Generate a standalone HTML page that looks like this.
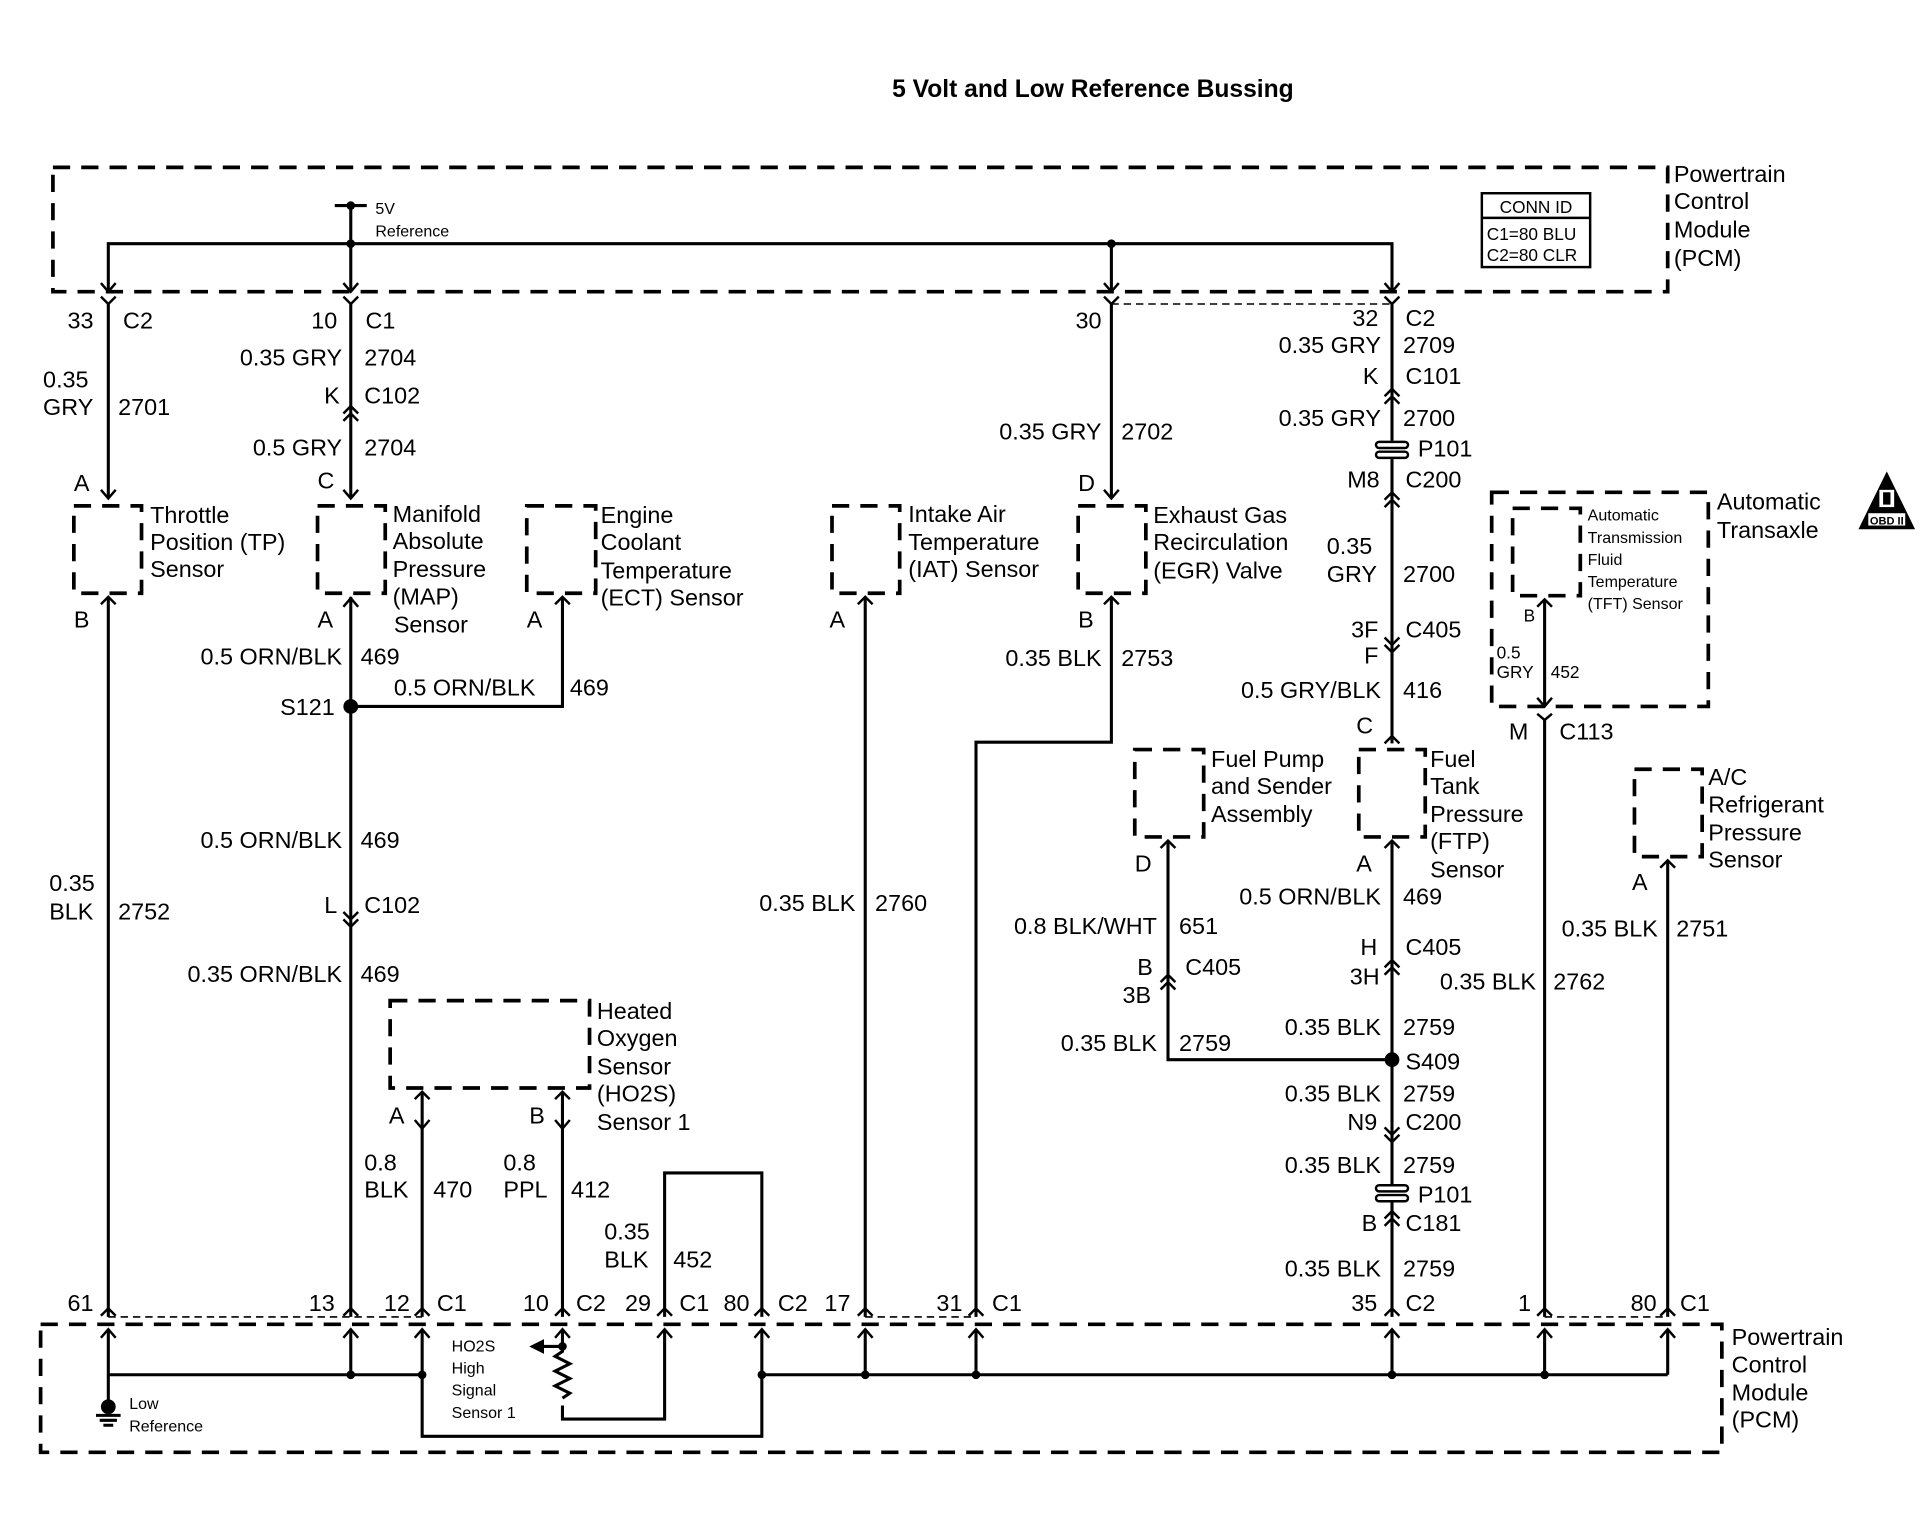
<!DOCTYPE html>
<html><head><meta charset="utf-8"><style>
html,body{margin:0;padding:0;background:#fff;}
svg{display:block;}
text{font-family:"Liberation Sans",Arial,sans-serif;font-size:19px;fill:#000;}
.s{font-size:13px;}
.m{font-size:14px;}
.t{font-size:20px;font-weight:bold;}
.e{text-anchor:end;}
</style></head><body>
<svg width="1920" height="1536" viewBox="0 0 1560 1248" preserveAspectRatio="none" xmlns="http://www.w3.org/2000/svg">
<rect width="1560" height="1248" fill="#fff"/>
<text class="t" x="888" y="79" text-anchor="middle">5 Volt and Low Reference Bussing</text>

<g fill="none" stroke="#000" stroke-width="3" stroke-dasharray="14,9">
<rect x="43" y="136" width="1312" height="101"/>
<rect x="33" y="1076" width="1366" height="104"/>
<rect x="1212" y="400" width="176" height="174"/>
<rect x="1229" y="413" width="55" height="71"/>
<rect x="60" y="411" width="55" height="71"/>
<rect x="258" y="411" width="55" height="71"/>
<rect x="428" y="411" width="56" height="71"/>
<rect x="676" y="411" width="55" height="71"/>
<rect x="876" y="411" width="55" height="71"/>
<rect x="922" y="609" width="56" height="71"/>
<rect x="1104" y="609" width="54" height="71"/>
<rect x="1328" y="625" width="55" height="71"/>
<rect x="317" y="813" width="162" height="71"/>
</g>
<g fill="none" stroke="#000" stroke-width="1.3" stroke-dasharray="6,4">
<path d="M903 247 H1131"/>
<path d="M88 1070 H343 M703 1070 H793 M1255 1070 H1355"/>
</g>

<g fill="none" stroke="#000" stroke-width="2.5">
<!-- top bus -->
<path d="M272 167 H298 M285 167 V237 M88 237 V198 H1131 V237 M903 198 V237"/>
<!-- col 88 -->
<path d="M88 247 V405 M88 485 V1070"/>
<!-- col 285 -->
<path d="M285 247 V405 M285 485 V1070 M285 574 H457 V485"/>
<!-- IAT -->
<path d="M703 485 V1070"/>
<!-- EGR -->
<path d="M903 247 V405 M903 485 V603 H793 V1070"/>
<!-- col 1131 -->
<path d="M1131 247 V358 M1131 373 V604 M1131 683 V962 M1131 976 V1070"/>
<path d="M949 683 V861 H1131"/>
<!-- TFT -->
<path d="M1255 487 V574 M1255 584 V1070"/>
<!-- A/C -->
<path d="M1355 699 V1070"/>
<!-- HO2S -->
<path d="M343 887 V1070 M457 887 V1070 M540 1070 V953 H619 V1070"/>
<!-- bottom internal -->
<path d="M88 1080 V1143 M285 1080 V1117 M343 1080 V1167 H619 V1080 M540 1080 V1153 H457 V1142 M88 1117 H343 M619 1117 H1355 M703 1080 V1117 M793 1080 V1117 M1131 1080 V1117 M1255 1080 V1117 M1355 1080 V1117"/>
<path d="M457 1080 V1098 l-6 4 l12 6 l-12 6 l12 6 l-12 6 l12 6 l-6 4 M457 1094 H440"/>
<!-- ground -->
<path d="M78 1150 H98 M81 1154 H95 M84 1158 H92"/>
</g>
<polygon points="430,1094 442,1088 442,1100" fill="#000"/>

<!-- arrows / connector marks -->
<g fill="none" stroke="#000" stroke-width="2">
<!-- down chevrons into top dashed line -->
<path d="M82 230 L88 237 L94 230 M279 230 L285 237 L291 230 M897 230 L903 237 L909 230 M1125 230 L1131 237 L1137 230"/>
<!-- forks below top line -->
<path d="M82 241 L88 247 L94 241 M279 241 L285 247 L291 241 M897 241 L903 247 L909 241 M1125 241 L1131 247 L1137 241"/>
<!-- C102 K up double -->
<path d="M279 336 L285 330 L291 336 M279 342 L285 336 L291 342"/>
<!-- down arrows into sensor tops -->
<path d="M82 398 L88 405 L94 398 M279 398 L285 405 L291 398 M897 398 L903 405 L909 398"/>
<!-- forks at sensor bottoms -->
<path d="M82 491 L88 485 L94 491 M451 491 L457 485 L463 491 M697 491 L703 485 L709 491 M897 491 L903 485 L909 491 M943 689 L949 683 L955 689 M1125 689 L1131 683 L1137 689 M1349 705 L1355 699 L1361 705 M1249 493 L1255 487 L1261 493 M337 893 L343 887 L349 893 M451 893 L457 887 L463 893"/>
<path d="M279 493 L285 486 L291 493"/>
<!-- HO2S down -->
<path d="M337 910 L343 917 L349 910 M451 910 L457 917 L463 910"/>
<!-- C102 L down double -->
<path d="M279 741 L285 747 L291 741 M279 747 L285 753 L291 747"/>
<!-- C101 up -->
<path d="M1125 322 L1131 316 L1137 322 M1125 328 L1131 322 L1137 328"/>
<!-- C200 M8 up -->
<path d="M1125 406 L1131 400 L1137 406 M1125 412 L1131 406 L1137 412"/>
<!-- C405 F down -->
<path d="M1125 518 L1131 524 L1137 518 M1125 524 L1131 530 L1137 524"/>
<!-- FTP top up -->
<path d="M1125 604 L1131 598 L1137 604"/>
<!-- C405 H up -->
<path d="M1125 786 L1131 780 L1137 786 M1125 792 L1131 786 L1137 792"/>
<!-- 3B -->
<path d="M943 798 L949 792 L955 798 M943 804 L949 798 L955 804"/>
<!-- N9 down -->
<path d="M1125 916 L1131 922 L1137 916 M1125 922 L1131 928 L1137 922"/>
<!-- C181 up -->
<path d="M1125 990 L1131 984 L1137 990 M1125 996 L1131 990 L1137 996"/>
<!-- TFT into outer box -->
<path d="M1249 567 L1255 574 L1261 567 M1249 580 L1255 585 L1261 580"/>
<!-- bottom forks and up arrows -->
<path d="M82 1069 L88 1063 L94 1069 M279 1069 L285 1063 L291 1069 M337 1069 L343 1063 L349 1069 M451 1069 L457 1063 L463 1069 M534 1069 L540 1063 L546 1069 M613 1069 L619 1063 L625 1069 M697 1069 L703 1063 L709 1069 M787 1069 L793 1063 L799 1069 M1125 1069 L1131 1063 L1137 1069 M1249 1069 L1255 1063 L1261 1069 M1349 1069 L1355 1063 L1361 1069"/>
<path d="M82 1087 L88 1080 L94 1087 M279 1087 L285 1080 L291 1087 M337 1087 L343 1080 L349 1087 M451 1087 L457 1080 L463 1087 M534 1087 L540 1080 L546 1087 M613 1087 L619 1080 L625 1087 M697 1087 L703 1080 L709 1087 M787 1087 L793 1080 L799 1087 M1125 1087 L1131 1080 L1137 1087 M1249 1087 L1255 1080 L1261 1087 M1349 1087 L1355 1080 L1361 1087"/>
</g>
<!-- P101 symbols -->
<g fill="#fff" stroke="#000" stroke-width="2">
<rect x="1118" y="359" width="26" height="5" rx="2.5"/><rect x="1118" y="367" width="26" height="5" rx="2.5"/>
<rect x="1118" y="963" width="26" height="5" rx="2.5"/><rect x="1118" y="971" width="26" height="5" rx="2.5"/>
</g>
<!-- dots -->
<g fill="#000">
<circle cx="285" cy="167" r="3.5"/><circle cx="285" cy="198" r="3.5"/><circle cx="903" cy="198" r="3.5"/>
<circle cx="285" cy="574" r="6"/><circle cx="1131" cy="861" r="6"/>
<circle cx="88" cy="1143" r="6"/><circle cx="285" cy="1117" r="3.5"/><circle cx="343" cy="1117" r="3.5"/><circle cx="619" cy="1117" r="3.5"/><circle cx="703" cy="1117" r="3.5"/><circle cx="793" cy="1117" r="3.5"/><circle cx="1131" cy="1117" r="3.5"/><circle cx="1255" cy="1117" r="3.5"/><circle cx="457" cy="1094" r="3.5"/>
</g>

<!-- CONN ID -->
<rect x="1204" y="157" width="88" height="60" fill="none" stroke="#000" stroke-width="2"/>
<line x1="1204" y1="177" x2="1292" y2="177" stroke="#000" stroke-width="2"/>
<text class="m" x="1248" y="173" text-anchor="middle">CONN ID</text>
<text class="m" x="1208" y="195">C1=80 BLU</text>
<text class="m" x="1208" y="212">C2=80 CLR</text>

<!-- OBD -->
<polygon points="1533,383 1510,430 1556,430" fill="#000"/>
<rect x="1527" y="398" width="12" height="14" fill="#fff"/><rect x="1530" y="400" width="6" height="10" fill="#000"/>
<rect x="1518" y="417" width="30" height="10" fill="#fff"/>
<text x="1533" y="426" text-anchor="middle" style="font-size:9px;font-weight:bold">OBD II</text>

<g>
<text class="s" x="305" y="174">5V</text><text class="s" x="305" y="192">Reference</text>
<text x="1360" y="148">Powertrain</text><text x="1360" y="170">Control</text><text x="1360" y="193">Module</text><text x="1360" y="216">(PCM)</text>
<text x="1407" y="1093">Powertrain</text><text x="1407" y="1115">Control</text><text x="1407" y="1138">Module</text><text x="1407" y="1160">(PCM)</text>

<text class="e" x="76" y="267">33</text><text x="100" y="267">C2</text>
<text x="35" y="315">0.35</text><text x="35" y="337">GRY</text><text x="96" y="337">2701</text>
<text x="60" y="399">A</text>
<text x="122" y="425">Throttle</text><text x="122" y="447">Position (TP)</text><text x="122" y="469">Sensor</text>
<text x="60" y="510">B</text>
<text x="40" y="724">0.35</text><text x="40" y="747">BLK</text><text x="96" y="747">2752</text>
<text class="e" x="76" y="1065">61</text>

<text class="e" x="274" y="267">10</text><text x="297" y="267">C1</text>
<text class="e" x="278" y="297">0.35 GRY</text><text x="296" y="297">2704</text>
<text class="e" x="276" y="328">K</text><text x="296" y="328">C102</text>
<text class="e" x="278" y="370">0.5 GRY</text><text x="296" y="370">2704</text>
<text x="258" y="397">C</text>
<text x="319" y="424">Manifold</text><text x="319" y="446">Absolute</text><text x="319" y="469">Pressure</text><text x="319" y="491">(MAP)</text><text x="320" y="514">Sensor</text>
<text x="258" y="510">A</text>
<text class="e" x="278" y="540">0.5 ORN/BLK</text><text x="293" y="540">469</text>
<text class="e" x="272" y="581">S121</text>
<text x="320" y="565">0.5 ORN/BLK</text><text x="463" y="565">469</text>
<text x="428" y="510">A</text>
<text x="488" y="425">Engine</text><text x="488" y="447">Coolant</text><text x="488" y="470">Temperature</text><text x="488" y="492">(ECT) Sensor</text>
<text class="e" x="278" y="689">0.5 ORN/BLK</text><text x="293" y="689">469</text>
<text class="e" x="274" y="742">L</text><text x="296" y="742">C102</text>
<text class="e" x="278" y="798">0.35 ORN/BLK</text><text x="293" y="798">469</text>
<text class="e" x="272" y="1065">13</text>

<text x="485" y="828">Heated</text><text x="485" y="850">Oxygen</text><text x="485" y="873">Sensor</text><text x="485" y="895">(HO2S)</text><text x="485" y="918">Sensor 1</text>
<text x="316" y="913">A</text><text x="430" y="913">B</text>
<text x="296" y="951">0.8</text><text x="296" y="973">BLK</text><text x="352" y="973">470</text>
<text x="409" y="951">0.8</text><text x="409" y="973">PPL</text><text x="464" y="973">412</text>
<text x="491" y="1007">0.35</text><text x="491" y="1030">BLK</text><text x="547" y="1030">452</text>
<text class="e" x="333" y="1065">12</text><text x="355" y="1065">C1</text>
<text class="e" x="446" y="1065">10</text><text x="468" y="1065">C2</text>
<text class="e" x="529" y="1065">29</text><text x="552" y="1065">C1</text>
<text class="e" x="609" y="1065">80</text><text x="632" y="1065">C2</text>
<text class="e" x="691" y="1065">17</text>
<text class="e" x="782" y="1065">31</text><text x="806" y="1065">C1</text>
<text class="s" x="367" y="1098">HO2S</text><text class="s" x="367" y="1116">High</text><text class="s" x="367" y="1134">Signal</text><text class="s" x="367" y="1152">Sensor 1</text>
<text class="s" x="105" y="1145">Low</text><text class="s" x="105" y="1163">Reference</text>

<text x="738" y="424">Intake Air</text><text x="738" y="447">Temperature</text><text x="738" y="469">(IAT) Sensor</text>
<text x="674" y="510">A</text>
<text class="e" x="695" y="740">0.35 BLK</text><text x="711" y="740">2760</text>

<text class="e" x="895" y="267">30</text>
<text class="e" x="895" y="357">0.35 GRY</text><text x="911" y="357">2702</text>
<text x="876" y="399">D</text>
<text x="937" y="425">Exhaust Gas</text><text x="937" y="447">Recirculation</text><text x="937" y="470">(EGR) Valve</text>
<text x="876" y="510">B</text>
<text class="e" x="895" y="541">0.35 BLK</text><text x="911" y="541">2753</text>

<text class="e" x="1120" y="265">32</text><text x="1142" y="265">C2</text>
<text class="e" x="1122" y="287">0.35 GRY</text><text x="1140" y="287">2709</text>
<text class="e" x="1120" y="312">K</text><text x="1142" y="312">C101</text>
<text class="e" x="1122" y="346">0.35 GRY</text><text x="1140" y="346">2700</text>
<text x="1152" y="371">P101</text>
<text class="e" x="1121" y="396">M8</text><text x="1142" y="396">C200</text>
<text x="1078" y="450">0.35</text><text x="1078" y="473">GRY</text><text x="1140" y="473">2700</text>
<text class="e" x="1120" y="518">3F</text><text x="1142" y="518">C405</text>
<text class="e" x="1120" y="539">F</text>
<text class="e" x="1122" y="567">0.5 GRY/BLK</text><text x="1140" y="567">416</text>
<text x="1102" y="596">C</text>
<text x="1162" y="623">Fuel</text><text x="1162" y="645">Tank</text><text x="1162" y="668">Pressure</text><text x="1162" y="690">(FTP)</text><text x="1162" y="713">Sensor</text>
<text x="1102" y="708">A</text>
<text class="e" x="1122" y="735">0.5 ORN/BLK</text><text x="1140" y="735">469</text>
<text class="e" x="1119" y="776">H</text><text x="1142" y="776">C405</text>
<text class="e" x="1121" y="800">3H</text>
<text class="e" x="1122" y="841">0.35 BLK</text><text x="1140" y="841">2759</text>
<text x="1142" y="869">S409</text>
<text class="e" x="1122" y="895">0.35 BLK</text><text x="1140" y="895">2759</text>
<text class="e" x="1119" y="918">N9</text><text x="1142" y="918">C200</text>
<text class="e" x="1122" y="953">0.35 BLK</text><text x="1140" y="953">2759</text>
<text x="1152" y="977">P101</text>
<text class="e" x="1119" y="1000">B</text><text x="1142" y="1000">C181</text>
<text class="e" x="1122" y="1037">0.35 BLK</text><text x="1140" y="1037">2759</text>
<text class="e" x="1119" y="1065">35</text><text x="1142" y="1065">C2</text>

<text x="984" y="623">Fuel Pump</text><text x="984" y="645">and Sender</text><text x="984" y="668">Assembly</text>
<text x="922" y="708">D</text>
<text class="e" x="940" y="759">0.8 BLK/WHT</text><text x="958" y="759">651</text>
<text x="924" y="792">B</text><text x="963" y="792">C405</text>
<text x="912" y="815">3B</text>
<text class="e" x="940" y="854">0.35 BLK</text><text x="958" y="854">2759</text>

<text x="1395" y="414">Automatic</text><text x="1395" y="437">Transaxle</text>
<text class="s" x="1290" y="423">Automatic</text><text class="s" x="1290" y="441">Transmission</text><text class="s" x="1290" y="459">Fluid</text><text class="s" x="1290" y="477">Temperature</text><text class="s" x="1290" y="495">(TFT) Sensor</text>
<text class="m" x="1238" y="505">B</text>
<text class="m" x="1216" y="535">0.5</text><text class="m" x="1216" y="551">GRY</text><text class="m" x="1260" y="551">452</text>
<text x="1226" y="601">M</text><text x="1267" y="601">C113</text>
<text class="e" x="1248" y="804">0.35 BLK</text><text x="1262" y="804">2762</text>
<text class="e" x="1244" y="1065">1</text>

<text x="1388" y="638">A/C</text><text x="1388" y="660">Refrigerant</text><text x="1388" y="683">Pressure</text><text x="1388" y="705">Sensor</text>
<text x="1326" y="723">A</text>
<text class="e" x="1347" y="761">0.35 BLK</text><text x="1362" y="761">2751</text>
<text class="e" x="1346" y="1065">80</text><text x="1365" y="1065">C1</text>
</g>
</svg>
</body></html>
